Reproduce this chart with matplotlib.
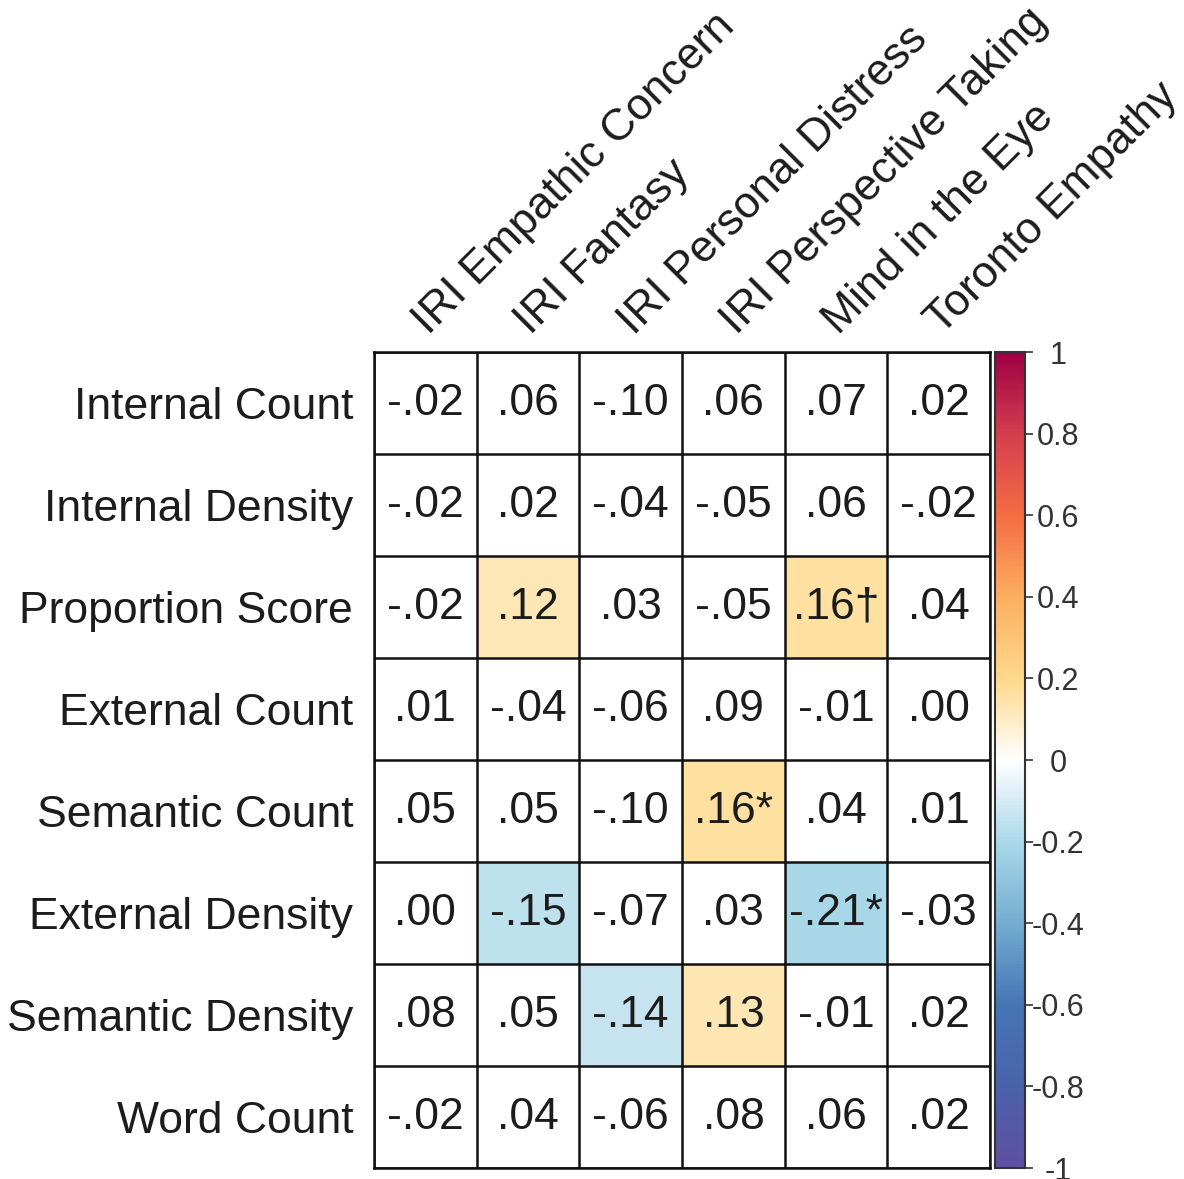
import numpy as np
import matplotlib
matplotlib.use('Agg')
import matplotlib.pyplot as plt
from matplotlib.colors import LinearSegmentedColormap, Normalize

plt.rcParams['font.family'] = ['Liberation Sans', 'DejaVu Sans']

measures = ['IRI Empathic Concern', 'IRI Fantasy', 'IRI Personal Distress',
            'IRI Perspective Taking', 'Mind in the Eye', 'Toronto Empathy']
scores = ['Internal Count', 'Internal Density', 'Proportion Score', 'External Count',
          'Semantic Count', 'External Density', 'Semantic Density', 'Word Count']

# correlation of each score (row) with each empathy measure (column)
r_internal_count = [-0.02, 0.06, -0.10, 0.06, 0.07, 0.02]
r_internal_density = [-0.02, 0.02, -0.04, -0.05, 0.06, -0.02]
r_proportion = [-0.02, 0.12, 0.03, -0.05, 0.16, 0.04]
r_external_count = [0.01, -0.04, -0.06, 0.09, -0.01, 0.00]
r_semantic_count = [0.05, 0.05, -0.10, 0.16, 0.04, 0.01]
r_external_density = [0.00, -0.15, -0.07, 0.03, -0.21, -0.03]
r_semantic_density = [0.08, 0.05, -0.14, 0.13, -0.01, 0.02]
r_word_count = [-0.02, 0.04, -0.06, 0.08, 0.06, 0.02]

# significance flags: '' none, 'dagger' p < .10, 'star' p < .05
sig_proportion = ['', '', '', '', 'dagger', '']
sig_semantic_count = ['', '', '', 'star', '', '']
sig_external_density = ['', '', '', '', 'star', '']

corr = np.array([r_internal_count, r_internal_density, r_proportion, r_external_count,
                 r_semantic_count, r_external_density, r_semantic_density, r_word_count])
sig = [[''] * 6, [''] * 6, sig_proportion, [''] * 6,
       sig_semantic_count, sig_external_density, [''] * 6, [''] * 6]
marks = {'': '', 'dagger': '\u2020', 'star': '*'}

shade_min = 0.11  # only cells at least this strong get coloured

cmap = LinearSegmentedColormap.from_list('corr', [
    (0.0, '#5e4fa2'), (0.1, '#4a62aa'), (0.2, '#4575b4'), (0.3, '#74add1'),
    (0.4, '#abd9e9'), (0.5, '#ffffff'), (0.6, '#fed98a'), (0.7, '#fdae61'),
    (0.8, '#f46d43'), (0.9, '#d53e4f'), (1.0, '#9e0142')])
norm = Normalize(-1, 1)

fig = plt.figure(figsize=(11.84, 11.79), dpi=100)
ax = fig.add_axes([0.3159, 0.0093, 0.5203, 0.6921])
cax = fig.add_axes([0.8404, 0.0093, 0.0253, 0.6921])

shown = np.ma.masked_where(np.abs(corr) < shade_min, corr)
ax.set_facecolor('white')
im = ax.imshow(shown, cmap=cmap, norm=norm, aspect='auto')

nrow, ncol = corr.shape
for i in range(nrow):
    for j in range(ncol):
        txt = f'{corr[i, j]:.2f}'.replace('0.', '.', 1) + marks[sig[i][j]]
        ax.text(j, i, txt, ha='center', va='center', fontsize=32, color='#1c1c1c')

# cell borders
for k in range(ncol + 1):
    ax.axvline(k - 0.5, color='#111111', lw=1.8)
for k in range(nrow + 1):
    ax.axhline(k - 0.5, color='#111111', lw=1.8)
for s in ax.spines.values():
    s.set_linewidth(1.8)
    s.set_color('#111111')

ax.set_xlim(-0.5, ncol - 0.5)
ax.set_ylim(nrow - 0.5, -0.5)
ax.set_xticks([])
ax.set_yticks(range(nrow))
ax.set_yticklabels(scores, fontsize=32, color='#1c1c1c')
ax.tick_params(axis='y', length=0, pad=15)

for j, name in enumerate(measures):
    ax.text(j + 0.03, -0.66, name, rotation=45, rotation_mode='anchor',
            ha='left', va='baseline', fontsize=32, color='#1c1c1c', clip_on=False)

cb = fig.colorbar(im, cax=cax)
ticks = [1, 0.8, 0.6, 0.4, 0.2, 0, -0.2, -0.4, -0.6, -0.8, -1]
cb.set_ticks(ticks)
cb.set_ticklabels([f'{t:g}' for t in ticks])
cax.tick_params(length=6, width=1.2, pad=18, labelsize=22, colors='#333333')
for lab in cax.get_yticklabels():
    lab.set_horizontalalignment('center')
cb.outline.set_linewidth(1.5)
cb.outline.set_edgecolor('#333333')

fig.savefig('out.png', dpi=100)
